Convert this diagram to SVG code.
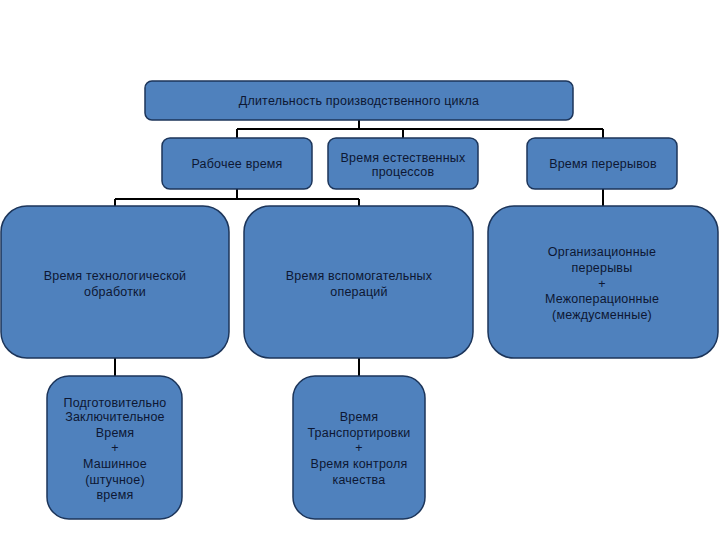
<svg xmlns="http://www.w3.org/2000/svg" width="720" height="540" viewBox="0 0 720 540">
<style>
.box{fill:#4f81bd;stroke:#1c355a;stroke-width:1.5}
.t{font-family:"Liberation Sans",Arial,sans-serif;font-size:12.5px;letter-spacing:0.2px;fill:#0d1733;text-anchor:middle}
.c{fill:none;stroke:#000;stroke-width:2}
</style>
<rect width="720" height="540" fill="#fff"/>
<g id="connectors">
<path class="c" d="M359 120V129M237 129H603M237 129V138M403 129V138M603 129V138"/>
<path class="c" d="M237 189V199M115 199H359M115 199V206M359 199V206M603 189V206"/>
<path class="c" d="M115 358V376M359 358V376"/>
</g>
<g id="n-cycle"><rect class="box" x="145" y="81" width="428" height="39" rx="7"/><text class="t" x="359" y="105">Длительность производственного цикла</text></g>
<g id="n-work"><rect class="box" x="162" y="138" width="150" height="51" rx="8"/><text class="t" x="237" y="168">Рабочее время</text></g>
<g id="n-natural"><rect class="box" x="328" y="138" width="150" height="51" rx="8"/><text class="t" x="403" y="162">Время естественных</text><text class="t" x="403" y="176">процессов</text></g>
<g id="n-breaks"><rect class="box" x="527" y="138" width="150" height="51" rx="8"/><text class="t" x="603" y="168">Время перерывов</text></g>
<g id="n-tech"><rect class="box" x="1" y="206" width="228" height="152" rx="26"/><text class="t" x="115" y="280">Время технологической</text><text class="t" x="115" y="296">обработки</text></g>
<g id="n-aux"><rect class="box" x="244" y="206" width="229" height="152" rx="26"/><text class="t" x="359" y="280">Время вспомогательных</text><text class="t" x="359" y="296">операций</text></g>
<g id="n-org"><rect class="box" x="488" y="206" width="230" height="152" rx="26"/><text class="t" x="602" y="256">Организационные</text><text class="t" x="602" y="272">перерывы</text><text class="t" x="602" y="288">+</text><text class="t" x="602" y="303">Межоперационные</text><text class="t" x="602" y="319">(междусменные)</text></g>
<g id="n-prep"><rect class="box" x="47" y="376" width="135" height="143" rx="22"/><text class="t" x="115" y="407">Подготовительно</text><text class="t" x="115" y="421">Заключительное</text><text class="t" x="115" y="437">Время</text><text class="t" x="115" y="452">+</text><text class="t" x="115" y="468">Машинное</text><text class="t" x="115" y="484">(штучное)</text><text class="t" x="115" y="499">время</text></g>
<g id="n-transport"><rect class="box" x="293" y="376" width="132" height="143" rx="22"/><text class="t" x="359" y="421">Время</text><text class="t" x="359" y="437">Транспортировки</text><text class="t" x="359" y="452">+</text><text class="t" x="359" y="468">Время контроля</text><text class="t" x="359" y="484">качества</text></g>
</svg>
